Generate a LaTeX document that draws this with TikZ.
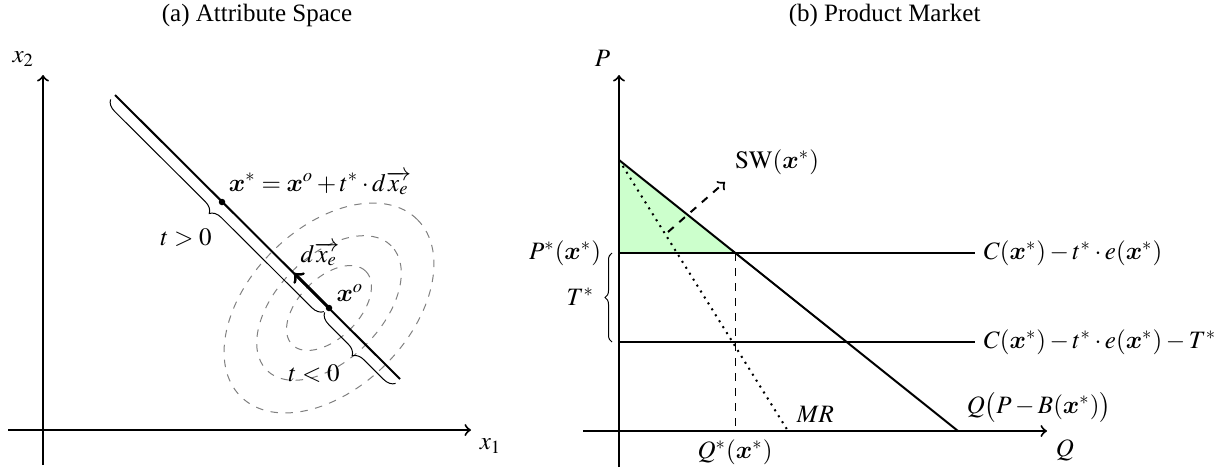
\documentclass[tikz,border=0pt]{standalone}
\usepackage{amsmath}
\usepackage{mathptmx}
\usepackage{fontspec}
\setmainfont{Liberation Serif}
\usetikzlibrary{decorations.pathreplacing}
\DeclareMathAlphabet{\mathbx}{OML}{cmm}{b}{it}
\newcommand{\bx}{\mathbx{x}}
\begin{document}
\begin{tikzpicture}[x=0.4pt,y=-0.4pt,
  axis/.style={thick,->},
  curveline/.style={thick},
  contour/.style={gray,dashed,thin},
  tbrace/.style={decorate,decoration={brace,mirror,amplitude=4.5pt,raise=2.5pt}},
  pbrace/.style={decorate,decoration={brace,mirror,amplitude=2.8pt,raise=2.8pt}},
  dot/.style={circle,fill,inner sep=0pt,minimum size=2.6pt}]
\useasboundingbox (0,0) rectangle (1225,474);

% ---------------- (a) Attribute Space ----------------
\node (titleA) at (257,15) {(a) Attribute Space};
\coordinate (x1s) at (8,430);
\coordinate (x1e) at (471,430);
\coordinate (x2s) at (43,465);
\coordinate (x2e) at (43,75);
\coordinate (La) at (115,95);
\coordinate (Lb) at (400,379);
\coordinate (xoc) at (329,308);
\coordinate (xsc) at (222,202);
\coordinate (dxe) at (294,273);

\draw[contour,rotate around={45:(xoc)}] (xoc) ellipse [x radius=50pt, y radius=32pt];
\draw[contour,rotate around={45:(xoc)}] (xoc) ellipse [x radius=35.2pt, y radius=20.8pt];
\draw[contour,rotate around={45:(xoc)}] (xoc) ellipse [x radius=20.8pt, y radius=12pt];

\draw[axis] (x1s) -- (x1e);
\draw[axis] (x2s) -- (x2e);
\node[below right] (x1lbl) at (x1e) {$x_1$};
\node[above left] (x2lbl) at (x2e) {$x_2$};

\draw[curveline] (La) -- (Lb);
\draw[tbrace] (La) -- (xoc);
\draw[tbrace] (xoc) -- (Lb);
\draw[line width=1.2pt,->] (xoc) -- (dxe);
\node[dot] (xstar) at (xsc) {};
\node[dot] (xo) at (xoc) {};

\node (lblxstar) at (320,183) {$\bx^* = \bx^o + t^*\cdot d\overrightarrow{x_e}$};
\node (lbldxe) at (320,254) {$d\overrightarrow{x_e}$};
\node (lblxo) at (350,293) {$\bx^o$};
\node (lbltpos) at (186,238) {$t>0$};
\node (lbltneg) at (314,374) {$t<0$};

% ---------------- (b) Product Market ----------------
\node[anchor=west] (titleB) at (780,15) {(b) Product Market};
\coordinate (Ptop) at (619,75);
\coordinate (Pbot) at (619,467);
\coordinate (Qleft) at (583,431);
\coordinate (Qright) at (1047,431);
\coordinate (A) at (619,160);
\coordinate (Pst) at (619,253);
\coordinate (E) at (735,253);
\coordinate (D) at (958,431);
\coordinate (M) at (788,431);
\coordinate (Qs) at (735,431);
\coordinate (Hend) at (975,253);
\coordinate (Low) at (619,342);
\coordinate (Lowend) at (975,342);
\coordinate (SWa) at (668,232);
\coordinate (SWb) at (725,182);

\fill[green!20] (A) -- (Pst) -- (E) -- cycle;
\draw[curveline] (Pst) -- (Hend);
\draw[curveline] (Low) -- (Lowend);
\draw[curveline] (A) -- (D);
\draw[thick,dotted] (A) -- (M);
\draw[dashed] (E) -- (Qs);
\draw[thick,dashed,->] (SWa) -- (SWb);
\draw[axis] (Pbot) -- (Ptop);
\draw[axis] (Qleft) -- (Qright);
\draw[pbrace] (Pst) -- (Low);

\node[above left] (Plbl) at (Ptop) {$P$};
\node[below right] (Qlbl) at (Qright) {$Q$};
\node[right] (C1lbl) at (Hend) {$C(\bx^*) - t^*\cdot e(\bx^*)$};
\node[right] (C2lbl) at (Lowend) {$C(\bx^*) - t^*\cdot e(\bx^*) - T^*$};
\node[above right] (demlbl) at (D) {$Q\big(P - B(\bx^*)\big)$};
\node[above right] (mrlbl) at (M) {$MR$};
\node[below] (qslbl) at (Qs) {$Q^*(\bx^*)$};
\node (swlbl) at (777,162) {$\mathrm{SW}(\bx^*)$};
\node[anchor=east] (pslbl) at (610,253) {$P^*(\bx^*)$};
\node[anchor=east] (tslbl) at (603,297) {$T^*$};
\end{tikzpicture}
\end{document}
